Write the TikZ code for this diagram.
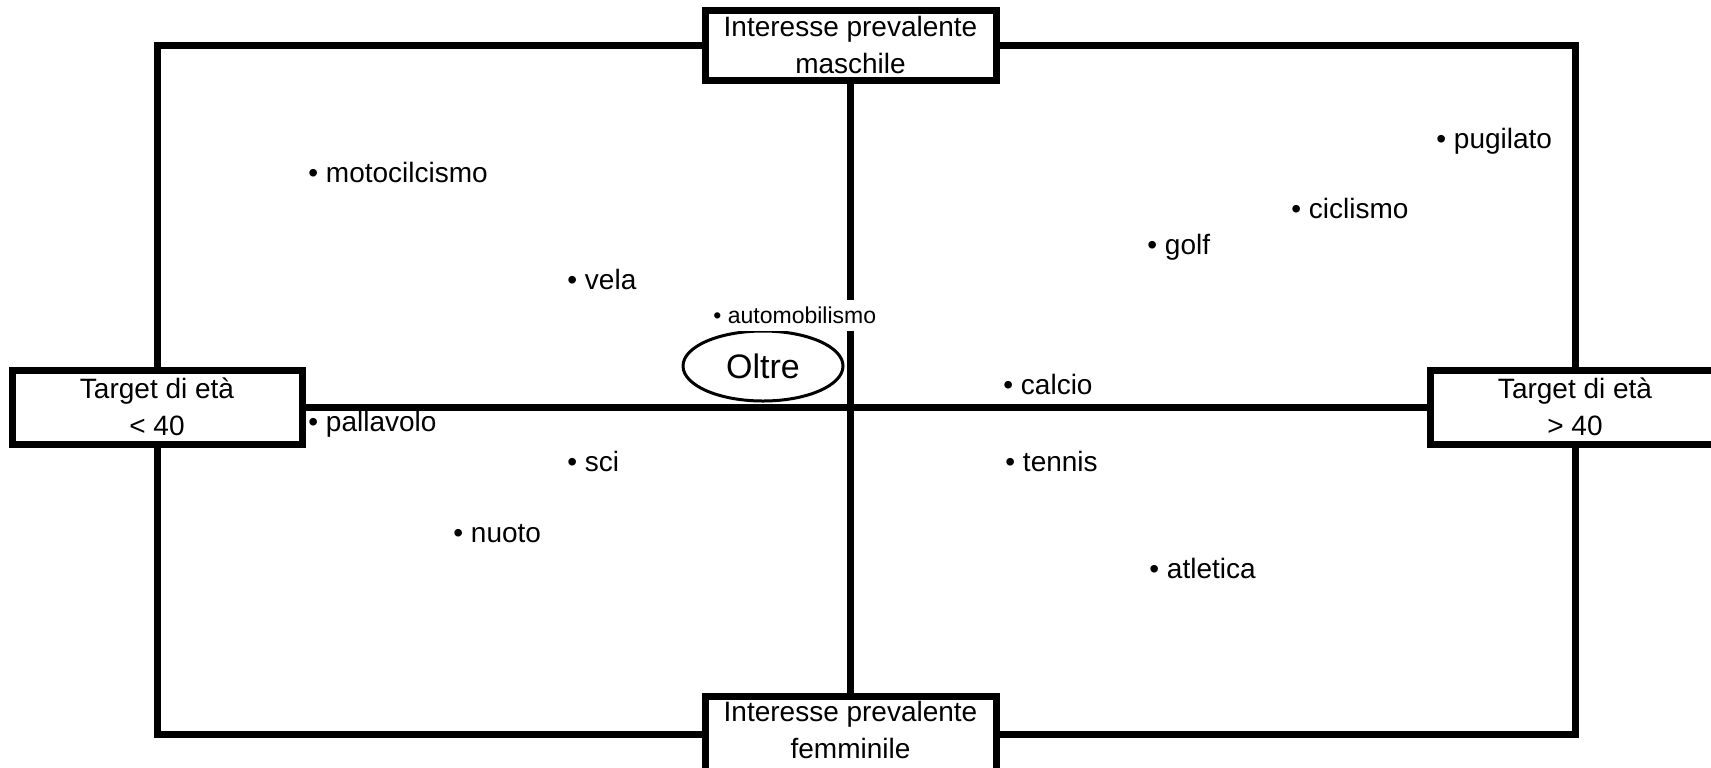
\documentclass[tikz,border=0pt]{standalone}
\usepackage{fontspec}
\setmainfont{Liberation Sans}
\usetikzlibrary{shapes.geometric}
\tikzset{
axisbox/.style=
    {draw,
    line width=3.5pt,
    fill=white,
    align=center,
    inner sep=0pt,
    minimum width=145.5pt,
    minimum height=35pt,
    font=\fontsize{14}{18.5}\selectfont
    },
frameline/.style=
    {line width=3.5pt
    },
sport/.style=
    {anchor=mid west,
    inner sep=0pt,
    font=\fontsize{14}{17}\selectfont
    }}

\begin{document}
\begin{tikzpicture}[x=0.5pt,y=-0.5pt]
\useasboundingbox (0,0) rectangle (1711,767);
\node[axisbox] (maschile) at (850.5,45) {Interesse prevalente\\maschile};
\node[axisbox,minimum height=38pt,text depth=4.5pt] (femminile) at (850.5,734) {Interesse prevalente\\femminile};
\node[axisbox,minimum width=145pt,minimum height=37pt] (etaL) at (157,407) {Target di età\\< 40};
\node[axisbox,minimum width=145pt,minimum height=37pt] (etaR) at (1575,407) {Target di età\\> 40};
\draw[frameline] (maschile.west) -| (etaL.north);
\draw[frameline] (etaL.south) |- (femminile.west);
\draw[frameline] (femminile.east) -| (etaR.south);
\draw[frameline] (etaR.north) |- (maschile.east);
\draw[frameline] (etaL.east) -- (etaR.west);
\draw[frameline] (maschile.south) -- (femminile.north);
\node[ellipse,draw,line width=1.5pt,minimum width=80pt,minimum height=35pt,inner sep=0pt,font=\fontsize{17}{20}\selectfont] (oltre) at (763,366) {Oltre};
\node[sport] (motociclismo) at (308,177) {\textbullet\ motocilcismo};
\node[sport] (vela) at (567,284) {\textbullet\ vela};
\node[sport,fill=white,inner ysep=3.5pt,font=\fontsize{11.5}{14}\selectfont] (automobilismo) at (713,318) {\textbullet\ automobilismo};
\node[sport] (calcio) at (1003,389) {\textbullet\ calcio};
\node[sport] (pallavolo) at (308,426) {\textbullet\ pallavolo};
\node[sport] (sci) at (567,466) {\textbullet\ sci};
\node[sport] (tennis) at (1005,466) {\textbullet\ tennis};
\node[sport] (nuoto) at (453,537) {\textbullet\ nuoto};
\node[sport] (atletica) at (1149,573) {\textbullet\ atletica};
\node[sport] (golf) at (1147,249) {\textbullet\ golf};
\node[sport] (ciclismo) at (1291,213) {\textbullet\ ciclismo};
\node[sport] (pugilato) at (1436,143) {\textbullet\ pugilato};
\end{tikzpicture}
\end{document}
